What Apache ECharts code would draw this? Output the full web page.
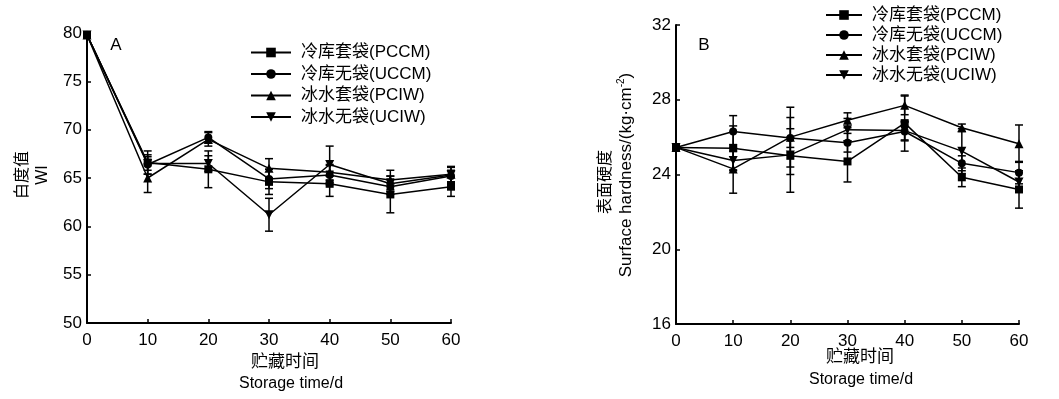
<!DOCTYPE html>
<html>
<head>
<meta charset="utf-8">
<script src="https://cdn.jsdelivr.net/npm/echarts@6/dist/echarts.min.js"></script>
<style>
  html, body { margin: 0; padding: 0; background: #fff; }
  #chart { width: 1059px; height: 399px; }
</style>
</head>
<body>
<div id="chart"></div>
<script>
const days = [0, 10, 20, 30, 40, 50, 60]
const names = ['冷库套袋(PCCM)', '冷库无袋(UCCM)', '冰水套袋(PCIW)', '冰水无袋(UCIW)']

// A: whiteness index WI
const wiPCCM = [79.8, 66.6, 65.9, 64.6, 64.4, 63.3, 64.1]
const wiUCCM = [79.8, 66.4, 69.2, 64.9, 65.3, 64.1, 65.2]
const wiPCIW = [79.8, 65.0, 69.0, 66.0, 65.6, 64.8, 65.4]
const wiUCIW = [79.8, 66.5, 66.5, 61.2, 66.4, 64.4, 65.3]
const wiSdPCCM = [0, 1.2, 1.9, 1.3, 1.3, 1.9, 1.0]
const wiSdUCCM = [0, 1.0, 0.6, 1.0, 1.0, 0.8, 0.6]
const wiSdPCIW = [0, 1.5, 0.7, 1.0, 0.8, 1.0, 0.8]
const wiSdUCIW = [0, 0.7, 0.8, 1.7, 1.9, 0.8, 0.8]

// B: surface hardness kg/cm2
const hdPCCM = [25.45, 25.4, 25.0, 24.7, 26.75, 23.85, 23.2]
const hdUCCM = [25.45, 26.3, 25.95, 25.7, 26.3, 24.6, 24.1]
const hdPCIW = [25.45, 24.3, 26.0, 26.9, 27.7, 26.5, 25.65]
const hdUCIW = [25.45, 24.75, 25.05, 26.4, 26.35, 25.25, 23.6]
const hdSdPCCM = [0, 1.2, 1.0, 1.1, 1.5, 0.5, 1.0]
const hdSdUCCM = [0, 0.85, 0.5, 0.5, 0.5, 0.4, 0.6]
const hdSdPCIW = [0, 1.3, 1.6, 0.4, 0.5, 0.2, 1.0]
const hdSdUCIW = [0, 0.5, 2.0, 0.6, 0.5, 1.2, 0.5]

const symbols = ['rect', 'circle', 'triangle', 'path://M0,0 L10,0 L5,10 Z']
const symbolSizes = [8, 8, 9, 9]
const font = '"Liberation Sans", Arial, "Noto Sans CJK SC", sans-serif'

const chart = echarts.init(document.getElementById('chart'))

function lineSeries(i, vals, idx) {
  return {
    name: names[i], type: 'line', xAxisIndex: idx, yAxisIndex: idx,
    data: days.map((d, k) => [d, vals[k]]),
    symbol: symbols[i], symbolSize: symbolSizes[i],
    lineStyle: { color: '#000', width: 1.5 },
    itemStyle: { color: '#000' },
    z: 3, animation: false
  }
}

function errSeries(vals, sd, idx) {
  return {
    type: 'custom', xAxisIndex: idx, yAxisIndex: idx,
    data: days.map((d, k) => [d, vals[k] - sd[k], vals[k] + sd[k]]),
    renderItem: (params, api) => {
      const lo = api.coord([api.value(0), api.value(1)])
      const hi = api.coord([api.value(0), api.value(2)])
      const w = 4
      const st = { stroke: '#000', lineWidth: 1.5 }
      return {
        type: 'group',
        children: [
          { type: 'line', shape: { x1: hi[0], y1: hi[1], x2: lo[0], y2: lo[1] }, style: st },
          { type: 'line', shape: { x1: hi[0] - w, y1: hi[1], x2: hi[0] + w, y2: hi[1] }, style: st },
          { type: 'line', shape: { x1: lo[0] - w, y1: lo[1], x2: lo[0] + w, y2: lo[1] }, style: st }
        ]
      }
    },
    z: 2, silent: true, animation: false
  }
}

function xAxis(idx) {
  return {
    type: 'value', gridIndex: idx, min: 0, max: 60, interval: 10,
    axisLine: { lineStyle: { color: '#000', width: 2 } },
    axisTick: { inside: true, length: 4, lineStyle: { color: '#000', width: 1.5 } },
    axisLabel: { color: '#000', fontSize: 17, fontFamily: font, margin: 9 },
    splitLine: { show: false }
  }
}

function yAxis(idx, min, max, step) {
  return {
    type: 'value', gridIndex: idx, min: min, max: max, interval: step,
    axisLine: { show: true, lineStyle: { color: '#000', width: 2 } },
    axisTick: { show: true, inside: true, length: 4, lineStyle: { color: '#000', width: 1.5 } },
    axisLabel: { color: '#000', fontSize: 17, fontFamily: font, margin: 5 },
    splitLine: { show: false }
  }
}

function legend(left, top, gap, w) {
  return {
    left: left, top: top, orient: 'vertical', padding: 0,
    itemWidth: w, itemHeight: 12, itemGap: gap,
    data: names,
    textStyle: { color: '#000', fontSize: 17, fontFamily: font, padding: [0, 0, 0, 5] }
  }
}

function txt(x, y, text, size, rot) {
  return {
    type: 'text', x: x, y: y, rotation: rot || 0,
    style: { text: text, fontSize: size || 16, fontFamily: font, fill: '#000', align: 'center', verticalAlign: 'middle' }
  }
}

const series = []
;[wiPCCM, wiUCCM, wiPCIW, wiUCIW].forEach((v, i) => {
  series.push(errSeries(v, [wiSdPCCM, wiSdUCCM, wiSdPCIW, wiSdUCIW][i], 0))
  series.push(lineSeries(i, v, 0))
})
;[hdPCCM, hdUCCM, hdPCIW, hdUCIW].forEach((v, i) => {
  series.push(errSeries(v, [hdSdPCCM, hdSdUCCM, hdSdPCIW, hdSdUCIW][i], 1))
  series.push(lineSeries(i, v, 1))
})

chart.setOption({
  animation: false,
  grid: [
    { left: 87, top: 33, width: 364, height: 290 },
    { left: 676, top: 25, width: 343, height: 299 }
  ],
  xAxis: [xAxis(0), xAxis(1)],
  yAxis: [yAxis(0, 50, 80, 5), yAxis(1, 16, 32, 4)],
  legend: [legend(250, 44, 4.5, 40), legend(825, 6.5, 3, 36)],
  graphic: [
    txt(116, 45, 'A', 17),
    txt(704, 45, 'B', 17),
    txt(285, 362, '贮藏时间', 17),
    txt(291, 384, 'Storage time/d', 16),
    txt(860, 357, '贮藏时间', 17),
    txt(861, 380, 'Storage time/d', 16),
    txt(23, 175, '白度值', 16, Math.PI / 2),
    txt(43, 175, 'WI', 16, Math.PI / 2),
    txt(606, 182, '表面硬度', 16, Math.PI / 2),
    {
      type: 'text', x: 626, y: 175, rotation: Math.PI / 2,
      style: {
        text: '{a|Surface hardness/(kg·cm}{s|-2}{a|)}',
        align: 'center', verticalAlign: 'middle', fill: '#000',
        rich: {
          a: { fontSize: 17, fontFamily: font, fill: '#000' },
          s: { fontSize: 10, fontFamily: font, fill: '#000', verticalAlign: 'top', padding: [0, 0, 9, 0] }
        }
      }
    }
  ],
  series: series
})
</script>
</body>
</html>
